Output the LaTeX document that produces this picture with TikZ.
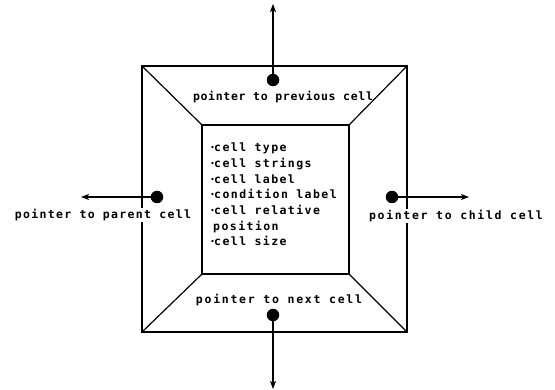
\documentclass[tikz,border=0pt]{standalone}
\usepackage{fontspec}
\newfontfamily\dotfont{DejaVu Sans Mono}
\usetikzlibrary{arrows.meta}
\tikzset{
  edge/.style={line width=1.2pt},
  arr/.style={line width=1.2pt,-{Stealth[length=8pt,width=6pt,inset=2pt]}},
  dotn/.style={circle,fill=black,inner sep=0pt,minimum size=12.5pt},
  lbl/.style={font=\dotfont\bfseries\fontsize{11.5}{13}\selectfont,inner sep=1pt},
  itm/.style={font=\dotfont\bfseries\fontsize{11.5}{13}\selectfont\addfontfeature{LetterSpace=12.5},inner sep=0pt,anchor=base west},
}
\begin{document}
\begin{tikzpicture}[x=1pt,y=-1pt]
\useasboundingbox (0,0) rectangle (555,390);
% boxes
\node[draw,edge,minimum width=265pt,minimum height=266pt,inner sep=0pt] (outer) at (274.5,199) {};
\node[draw,edge,minimum width=147pt,minimum height=149pt,inner sep=0pt] (inner) at (275.5,199.5) {};
\draw[edge] (outer.north west) -- (inner.north west);
\draw[edge] (outer.north east) -- (inner.north east);
\draw[edge] (outer.south west) -- (inner.south west);
\draw[edge] (outer.south east) -- (inner.south east);
% labels
\node[lbl] (ltop) at (283,97) {\addfontfeature{LetterSpace=6}pointer to previous cell};
\node[lbl] (lbot) at (279,300) {\addfontfeature{LetterSpace=15}pointer to next cell};
\node[lbl,fill=white] (lleft) at (103,215) {\addfontfeature{LetterSpace=11.5}pointer to parent cell};
\node[lbl,fill=white] (lright) at (456,216) {\addfontfeature{LetterSpace=14.5}pointer to child cell};
% item list
\node[itm] (i1) at (209,152) {\makebox[5pt][l]{·}cell type};
\node[itm] (i2) at (209,167.7) {\makebox[5pt][l]{·}cell strings};
\node[itm] (i3) at (209,183.3) {\makebox[5pt][l]{·}cell label};
\node[itm] (i4) at (209,199) {\makebox[5pt][l]{·}condition label};
\node[itm] (i5) at (209,214.7) {\makebox[5pt][l]{·}cell relative};
\node[itm] (i6) at (209,230.3) {\hspace{4pt}position};
\node[itm] (i7) at (209,246) {\makebox[5pt][l]{·}cell size};
% pointers
\node[dotn] (dtop) at (273,80) {};
\node[dotn] (dbot) at (273,315) {};
\node[dotn] (dleft) at (157,197) {};
\node[dotn] (dright) at (392,197) {};
\coordinate (etop) at (273,4);
\coordinate (ebot) at (273,389);
\coordinate (eleft) at (81,197);
\coordinate (eright) at (469,197);
\draw[arr] (dtop.center) -- (etop);
\draw[arr] (dbot.center) -- (ebot);
\draw[arr] (dleft.center) -- (eleft);
\draw[arr] (dright.center) -- (eright);
\end{tikzpicture}
\end{document}
